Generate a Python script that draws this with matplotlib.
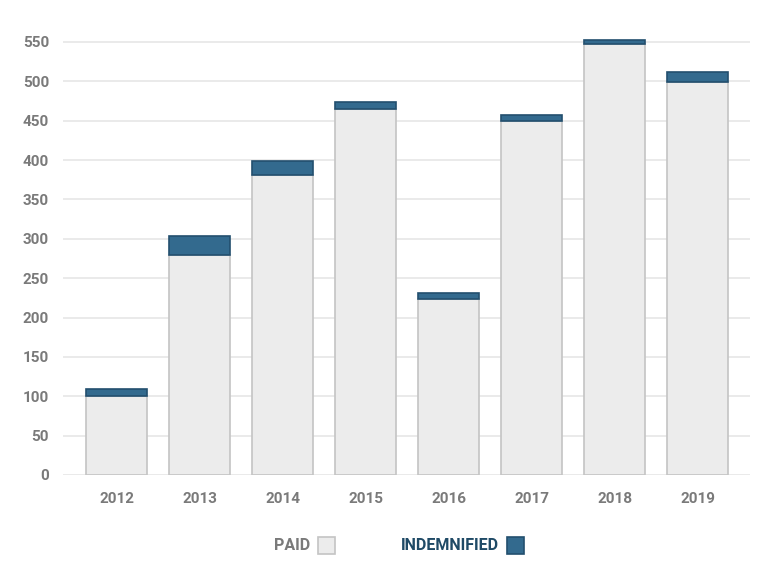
import numpy as np
import matplotlib
matplotlib.use('Agg')
import matplotlib.pyplot as plt
from matplotlib.patches import Rectangle

years = ['2012', '2013', '2014', '2015', '2016', '2017', '2018', '2019']
paid = [100, 280, 381, 465, 224, 449, 547, 499]
indemnified = [9, 23, 18, 9, 7, 8, 5, 13]
yticks = [0, 50, 100, 150, 200, 250, 300, 350, 400, 450, 500, 550]

plt.rcParams['font.family'] = ['Roboto', 'DejaVu Sans']

fig = plt.figure(figsize=(7.8, 5.85), dpi=100)
ax = fig.add_axes([63/780, 1-475/585, (750-63)/780, (475-34)/585])

x = np.arange(len(years))
ax.bar(x, paid, width=0.735, color='#ececec', edgecolor='#c4c4c4', linewidth=1.2, zorder=2)
ax.bar(x, indemnified, width=0.735, bottom=paid, color='#336a8e', edgecolor='#234f6e',
       linewidth=1.2, zorder=2)

ax.set_xlim(-0.645, len(years) - 1 + 0.63)
ax.set_ylim(0, 560)
ax.set_yticks(yticks)
ax.set_xticks(x)
ax.set_xticklabels(years)
ax.grid(axis='y', color='#e6e6e6', linewidth=1.2, zorder=0)
for s in ax.spines.values():
    s.set_visible(False)
ax.tick_params(axis='both', length=0, labelsize=11, labelcolor='#7a7a7a')
ax.tick_params(axis='y', pad=10)
ax.tick_params(axis='x', pad=12)
for lab in ax.get_xticklabels() + ax.get_yticklabels():
    lab.set_fontweight('bold')

# legend
fig.text(310/780, 1-546/585, 'PAID', ha='right', va='center', fontsize=11.5,
         fontweight='bold', color='#7a7a7a')
fig.patches.append(Rectangle((318/780, 1-554/585), 17/780, 17/585, transform=fig.transFigure,
                             facecolor='#ececec', edgecolor='#c4c4c4', linewidth=1.2))
fig.text(499/780, 1-546/585, 'INDEMNIFIED', ha='right', va='center', fontsize=11.5,
         fontweight='bold', color='#1f4a66')
fig.patches.append(Rectangle((507/780, 1-554/585), 17/780, 17/585, transform=fig.transFigure,
                             facecolor='#336a8e', edgecolor='#234f6e', linewidth=1.2))

plt.savefig('out.png', dpi=100)
